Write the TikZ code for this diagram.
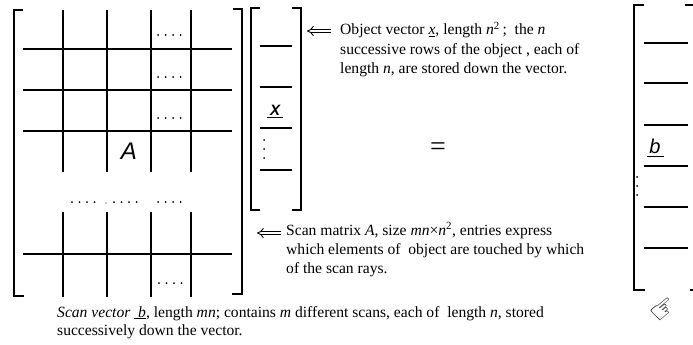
\documentclass[tikz,border=0pt]{standalone}
\usepackage{fontspec}
\usetikzlibrary{arrows.meta}
\setmainfont{Liberation Serif}
\setsansfont{Liberation Sans}
\newfontfamily\symfont{DejaVu Sans}
\newcommand\hdotrow[2]{\foreach \i in {0,...,3} {\fill (#1+7.5*\i,#2) circle (1);}}
\newcommand\vdotcol[2]{\foreach \i in {0,...,2} {\fill (#1,#2+9*\i) circle (1);}}
\begin{document}
\begin{tikzpicture}[x=1pt,y=-1pt,
  brk/.style={line width=1.4pt},
  gridln/.style={line width=1.2pt},
  vecln/.style={line width=1.2pt},
  txt/.style={inner sep=0pt,anchor=base west,font=\fontsize{15.6}{18}\selectfont},
  dblarr/.style={double, double distance=2.6pt, line width=0.9pt, -{Implies[length=5pt]}}]
\useasboundingbox (0,0) rectangle (693,345);
% ---- matrix A brackets
\draw[brk] (23,10) -- (14,10) -- (14,296) -- (24,296);
\draw[brk] (233,9) -- (242,9) -- (242,294) -- (232,294);
% grid
\foreach \x in {63,107,151,191} {
  \draw[gridln] (\x,10) -- (\x,172);
  \draw[gridln] (\x,212) -- (\x,297);
}
\foreach \y in {49,90,131,254} \draw[gridln] (23,\y) -- (232,\y);
\hdotrow{158}{35}
\hdotrow{158}{77}
\hdotrow{158}{118}
\hdotrow{72}{202}
\fill (106,203) circle (0.6);
\hdotrow{114}{202}
\hdotrow{158}{202}
\hdotrow{159}{283}
\node[font=\sffamily\itshape\fontsize{24}{24}\selectfont,inner sep=0pt] (Alab) at (129,151) {A};
% ---- vector x
\draw[brk] (260,8) -- (251,8) -- (251,210) -- (260,210);
\draw[brk] (292,8) -- (301,8) -- (301,210) -- (292,210);
\foreach \y in {46,87,128,170} \draw[vecln] (260,\y) -- (292,\y);
\node[font=\sffamily\bfseries\itshape\fontsize{15}{15}\selectfont,inner sep=0pt] (Xlab) at (275,110) {X};
\draw[line width=1.1pt] (267,117.5) -- (283,117.5);
\vdotcol{264}{140}
% ---- equals
\node[font=\fontsize{28}{28}\selectfont,inner sep=0pt] (eq) at (438,149) {=};
% ---- vector b
\draw[brk] (644,5) -- (634,5) -- (634,290) -- (645,290);
\draw[brk] (685,5) -- (693,5);
\draw[brk] (690,290) -- (693,290);
\foreach \y in {43,83,125,166,207,248} \draw[vecln] (644,\y) -- (688,\y);
\node[font=\sffamily\itshape\fontsize{20}{20}\selectfont,inner sep=0pt] (blab) at (655,146) {b};
\draw[line width=1.1pt] (647,156.5) -- (664,156.5);
\vdotcol{637}{177}
% ---- hand
\node[font=\symfont\fontsize{30}{30}\selectfont,rotate=40,inner sep=0pt] (hand) at (664,310) {☞};
% ---- annotations
\node[txt] (t1a) at (340,35) {Object vector \underline{\textit{x}}, length \textit{n}\textsuperscript{2}\,; \ the \textit{n}};
\node[txt] (t1b) at (340,54.5) {successive rows of the object , each of};
\node[txt] (t1c) at (340,74) {length \textit{n}, are stored down the vector.};
\coordinate (a1s) at (331,31);
\coordinate (a1e) at (307,31);
\draw[dblarr] (a1s) -- (a1e);
\node[txt] (t2a) at (286,235) {Scan matrix \textit{A}, size \textit{mn}×\textit{n}\textsuperscript{2}, entries express};
\node[txt] (t2b) at (286,254) {which elements of \ object are touched by which};
\node[txt] (t2c) at (286,273) {of the scan rays.};
\coordinate (a2s) at (281,233);
\coordinate (a2e) at (257,233);
\draw[dblarr] (a2s) -- (a2e);
\node[txt] (t3a) at (57,317) {\textit{Scan vector} \underline{\ \textit{b}}, length \textit{mn}; contains \textit{m} different scans, each of \ length \textit{n}, stored};
\node[txt] (t3b) at (57,335.5) {successively down the vector.};
\end{tikzpicture}
\end{document}
